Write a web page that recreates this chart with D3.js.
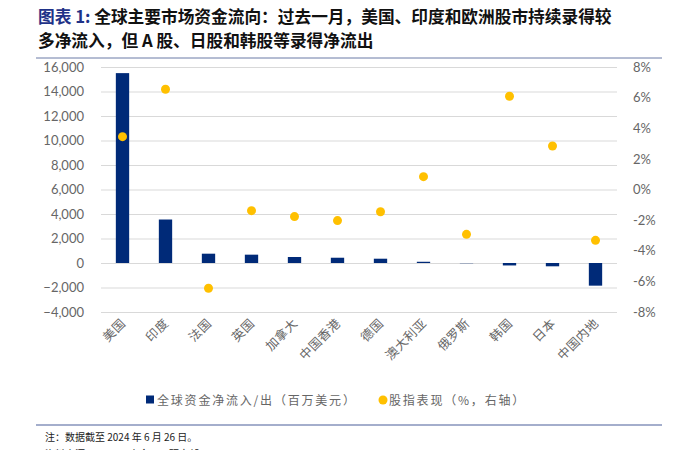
<!DOCTYPE html>
<html>
<head>
<meta charset="utf-8">
<script src="https://cdn.jsdelivr.net/npm/d3@7"></script>
<style>
  body { margin: 0; background: #fff; }
  text { font-family: Lato, "Noto Sans CJK SC", sans-serif; }
  .cjk { font-family: "Noto Sans CJK SC", sans-serif; }
</style>
</head>
<body>
<div id="chart-area"></div>
<script>
const W = 675, H = 450
const MARGIN = { LEFT: 101, RIGHT: 58, TOP: 67, BOTTOM: 138 }
const WIDTH = W - MARGIN.LEFT - MARGIN.RIGHT
const HEIGHT = H - MARGIN.TOP - MARGIN.BOTTOM

// data
const markets = ["美国", "印度", "法国", "英国", "加拿大", "中国香港", "德国", "澳大利亚", "俄罗斯", "韩国", "日本", "中国内地"]
const flows = [15500, 3550, 760, 680, 490, 430, 350, 100, -20, -200, -270, -1850]
const indexPerf = [3.45, 6.55, -6.45, -1.38, -1.77, -2.03, -1.45, 0.84, -2.93, 6.09, 2.84, -3.32]
const leftTicks = [-4000, -2000, 0, 2000, 4000, 6000, 8000, 10000, 12000, 14000, 16000]
const rightTicks = [-8, -6, -4, -2, 0, 2, 4, 6, 8]

const svg = d3.select("#chart-area").append("svg")
  .attr("width", W)
  .attr("height", H)

// title
const title = svg.append("text")
  .attr("class", "cjk")
  .attr("x", 38)
  .attr("y", 23)
  .attr("font-size", "16.7px")
  .attr("font-weight", "bold")
title.append("tspan").attr("fill", "#1f3288").text("图表 1: ")
title.append("tspan").attr("fill", "#111").text("全球主要市场资金流向：过去一月，美国、印度和欧洲股市持续录得较")
svg.append("text")
  .attr("class", "cjk")
  .attr("x", 38)
  .attr("y", 47)
  .attr("font-size", "16.7px")
  .attr("font-weight", "bold")
  .attr("fill", "#111")
  .text("多净流入，但 A 股、日股和韩股等录得净流出")

svg.append("line")
  .attr("x1", 36).attr("x2", 662)
  .attr("y1", 58).attr("y2", 58)
  .attr("stroke", "#6a7aa6").attr("stroke-width", 1)

const g = svg.append("g")
  .attr("transform", `translate(${MARGIN.LEFT}, ${MARGIN.TOP})`)

// scales
const x = d3.scaleBand()
  .domain(markets)
  .range([0, WIDTH])
  .paddingInner(0.69)
  .paddingOuter(0.345)
const y = d3.scaleLinear()
  .domain([-4000, 16000])
  .range([HEIGHT, 0])
const y2 = d3.scaleLinear()
  .domain([-8, 8])
  .range([HEIGHT, 0])

// gridlines
const grid = g.append("g")
  .call(d3.axisLeft(y).tickValues(leftTicks).tickSize(-WIDTH).tickFormat(""))
grid.select(".domain").remove()
grid.selectAll(".tick line").attr("stroke", "#d9d9d9").attr("stroke-width", 1.2)

// left axis
const yAxis = g.append("g")
  .attr("transform", "translate(-14, 0)")
  .call(d3.axisLeft(y).tickValues(leftTicks).tickSize(0).tickFormat(d3.format(",")))
yAxis.select(".domain").remove()
yAxis.selectAll("text").attr("font-size", "13px").attr("fill", "#666")
  .attr("font-family", "Lato, sans-serif")

// right axis
const y2Axis = g.append("g")
  .attr("transform", `translate(${WIDTH + 13}, 0)`)
  .call(d3.axisRight(y2).tickValues(rightTicks).tickSize(0).tickFormat(d => d + "%"))
y2Axis.select(".domain").remove()
y2Axis.selectAll("text").attr("font-size", "13px").attr("fill", "#666")
  .attr("font-family", "Lato, sans-serif")

// bars
g.selectAll("rect.bar")
  .data(flows)
  .enter().append("rect")
  .attr("class", "bar")
  .attr("x", (d, i) => x(markets[i]))
  .attr("width", x.bandwidth())
  .attr("y", d => y(Math.max(0, d)))
  .attr("height", d => Math.abs(y(d) - y(0)))
  .attr("fill", "#002a78")

// dots
g.selectAll("circle.dot")
  .data(indexPerf)
  .enter().append("circle")
  .attr("class", "dot")
  .attr("cx", (d, i) => x(markets[i]) + x.bandwidth() / 2)
  .attr("cy", d => y2(d))
  .attr("r", 4.5)
  .attr("fill", "#ffc000")

// x labels
g.selectAll("text.xlab")
  .data(markets)
  .enter().append("text")
  .attr("class", "xlab cjk")
  .attr("text-anchor", "end")
  .attr("font-size", "12.5px")
  .attr("letter-spacing", "0.5px")
  .attr("fill", "#666")
  .attr("transform", d => `translate(${x(d) + x.bandwidth() / 2 + 4}, ${HEIGHT + 12}) rotate(-45)`)
  .text(d => d)

// legend
const legend = svg.append("g")
  .attr("transform", "translate(146, 400)")
legend.append("rect")
  .attr("x", 0).attr("y", -4.5)
  .attr("width", 8).attr("height", 8)
  .attr("fill", "#002a78")
legend.append("text")
  .attr("class", "cjk")
  .attr("x", 11).attr("y", 4.5)
  .attr("font-size", "12px")
  .attr("letter-spacing", "1.8px")
  .attr("fill", "#666")
  .text("全球资金净流入/出（百万美元）")
legend.append("circle")
  .attr("cx", 237).attr("cy", 0)
  .attr("r", 4.5)
  .attr("fill", "#ffc000")
legend.append("text")
  .attr("class", "cjk")
  .attr("x", 243).attr("y", 4.5)
  .attr("font-size", "12px")
  .attr("letter-spacing", "1.8px")
  .attr("fill", "#666")
  .text("股指表现（%，右轴）")

// footer
svg.append("line")
  .attr("x1", 36).attr("x2", 662)
  .attr("y1", 425).attr("y2", 425)
  .attr("stroke", "#4a5f9a").attr("stroke-width", 1.2)
svg.append("text")
  .attr("class", "cjk")
  .attr("x", 45).attr("y", 441)
  .attr("font-size", "10px")
  .attr("fill", "#222")
  .text("注：数据截至 2024 年 6 月 26 日。")
svg.append("text")
  .attr("class", "cjk")
  .attr("x", 45).attr("y", 458)
  .attr("font-size", "10px")
  .attr("fill", "#222")
  .text("资料来源：EPFR，中金公司研究部")
</script>
</body>
</html>
